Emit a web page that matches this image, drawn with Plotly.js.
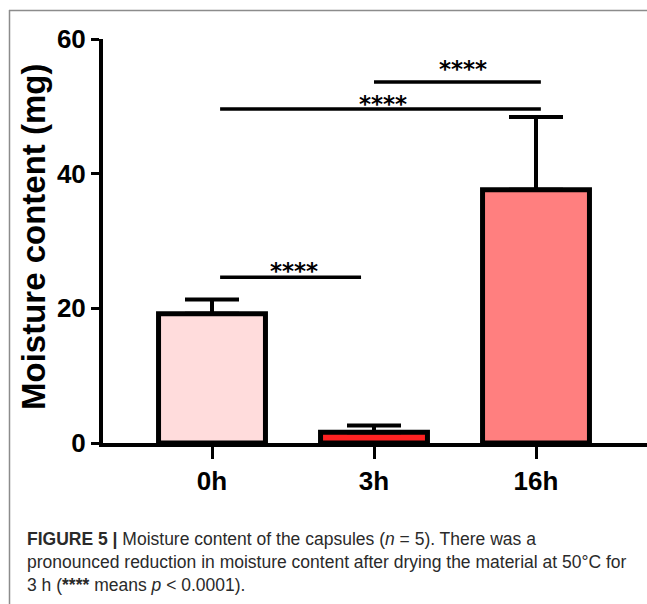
<!DOCTYPE html>
<html>
<head>
<meta charset="utf-8">
<script src="https://cdn.plot.ly/plotly-3.0.1.min.js"></script>
<style>
  html, body { margin: 0; padding: 0; background: #ffffff; }
  #chart { width: 647px; height: 604px; }
</style>
</head>
<body>
<div id="chart"></div>
<script>
// ---- data ----
const categories = ['0h', '3h', '16h'];
const meanValues = [19.2, 1.6, 37.6];
const errorUpper = [2.1, 1.0, 10.8];
const errorLower = [0, 0, 0];
const yTickValues = [0, 20, 40, 60];
const yTickLabels = ['0', '20', '40', '60'];

// significance brackets (x in category index units, y in data units)
const sigStartX = [0.05, 0.05, 1.0];
const sigEndX = [0.92, 2.03, 2.03];
const sigLineY = [24.6, 49.6, 53.6];
const sigLabelX = [0.506, 1.056, 1.548];
const sigLabelY = [25.6, 50.4, 55.6];
const sigLabels = ['****', '****', '****'];

const yTitle = 'Moisture content (mg)';
const captionLines = [
  '<b>FIGURE 5 |</b> Moisture content of the capsules (<i>n</i> = 5). There was a',
  'pronounced reduction in moisture content after drying the material at 50°C for',
  '3 h (<b>****</b> means <i>p</i> &lt; 0.0001).'
];

// ---- styles / layout geometry ----
const barFill = ['#ffdcdc', '#ff2222', '#ff7f7f'];
const W = 647, H = 604;
const M = { l: 103, r: 0, t: 39, b: 161 };
const plotW = W - M.l - M.r, plotH = H - M.t - M.b;
const px = x => (x - M.l) / plotW;
const py = y => (H - M.b - y) / plotH;

const boldFont = 'Liberation Sans, Arial, sans-serif';
const captionFont = 'Liberation Sans, Arial, sans-serif';

const trace = {
  type: 'bar',
  x: categories,
  y: meanValues,
  width: 0.66,
  marker: { color: barFill, line: { color: '#000000', width: 5 } },
  error_y: {
    type: 'data', symmetric: false,
    array: errorUpper, arrayminus: errorLower,
    color: '#000000', thickness: 4, width: 27
  },
  hoverinfo: 'skip'
};

const shapes = [];
for (let i = 0; i < sigLineY.length; i++) {
  shapes.push({
    type: 'line', xref: 'x', yref: 'y',
    x0: sigStartX[i], x1: sigEndX[i], y0: sigLineY[i], y1: sigLineY[i],
    line: { color: '#000000', width: 3.5 }
  });
}
// figure frame (top & left rule)
shapes.push({ type: 'line', xref: 'paper', yref: 'paper', x0: px(9), x1: px(647), y0: py(10.5), y1: py(10.5), line: { color: '#8c8c8c', width: 1.5 } });
shapes.push({ type: 'line', xref: 'paper', yref: 'paper', x0: px(9.5), x1: px(9.5), y0: py(10), y1: py(604), line: { color: '#8c8c8c', width: 1.5 } });

const annotations = [];
for (let i = 0; i < sigLabels.length; i++) {
  annotations.push({
    xref: 'x', yref: 'y', x: sigLabelX[i], y: sigLabelY[i],
    text: '<b>' + sigLabels[i] + '</b>', showarrow: false,
    xanchor: 'center', yanchor: 'middle',
    font: { family: 'DejaVu Sans, sans-serif', size: 23, color: '#000000' }
  });
}
annotations.push({
  xref: 'paper', yref: 'paper', x: px(33), y: py(237),
  text: '<b>' + yTitle + '</b>', textangle: -90, showarrow: false,
  xanchor: 'center', yanchor: 'middle',
  font: { family: boldFont, size: 33, color: '#000000' }
});
annotations.push({
  xref: 'paper', yref: 'paper', x: px(25), y: py(527),
  text: captionLines.join('<br>'), showarrow: false,
  xanchor: 'left', yanchor: 'top', align: 'left',
  font: { family: captionFont, size: 17.5, color: '#2a2a2a' }
});

const layout = {
  width: W, height: H,
  margin: M,
  paper_bgcolor: '#ffffff', plot_bgcolor: '#ffffff',
  showlegend: false,
  xaxis: {
    type: 'category',
    range: [-(212 - M.l) / 162, -(212 - M.l) / 162 + plotW / 162],
    showline: true, linecolor: '#000000', linewidth: 4,
    ticks: 'outside', ticklen: 12, tickwidth: 3, tickcolor: '#000000',
    tickfont: { family: boldFont, size: 26, color: '#000000', weight: 'bold' },
    showgrid: false, zeroline: false, fixedrange: true
  },
  yaxis: {
    range: [0, 60],
    tickvals: yTickValues, ticktext: yTickLabels,
    showline: true, linecolor: '#000000', linewidth: 4,
    ticks: 'outside', ticklen: 8, tickwidth: 3, tickcolor: '#000000',
    tickfont: { family: boldFont, size: 26, color: '#000000', weight: 'bold' },
    showgrid: false, zeroline: false, fixedrange: true
  },
  shapes: shapes,
  annotations: annotations
};

Plotly.newPlot('chart', [trace], layout, { displayModeBar: false, staticPlot: true });
</script>
</body>
</html>
